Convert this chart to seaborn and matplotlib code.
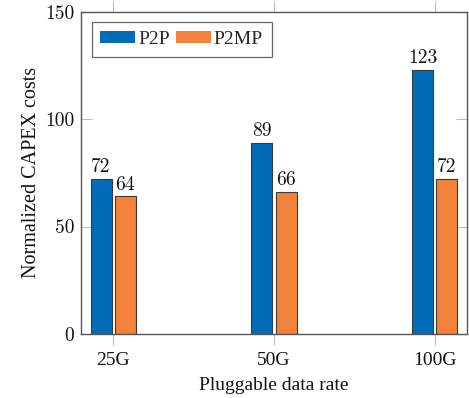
import matplotlib
matplotlib.use("Agg")
import matplotlib.pyplot as plt
import seaborn as sns
import pandas as pd

categories = ["25G", "50G", "100G"]
series = ["P2P", "P2MP"]
p2p = [72, 89, 123]
p2mp = [64, 66, 72]

df = pd.DataFrame({
    "rate": categories * 2,
    "scheme": [series[0]] * 3 + [series[1]] * 3,
    "value": p2p + p2mp,
})

sns.set_theme(style="white")
TEXT_FONT = ["Liberation Serif", "DejaVu Serif"]
NUM_FONT = ["cmr10", "DejaVu Serif"]
plt.rcParams["font.family"] = TEXT_FONT
plt.rcParams["mathtext.fontset"] = "cm"

fig = plt.figure(figsize=(4.69, 3.98), dpi=100)
ax = fig.add_axes([0.1727, 0.1608, 0.8230, 0.8102])

palette = {"P2P": "#006CB7", "P2MP": "#F5823A"}
sns.barplot(data=df, x="rate", y="value", hue="scheme", order=categories,
            hue_order=series, palette=palette, width=0.30, gap=0.133,
            edgecolor="#3a3a3a", linewidth=0.8, saturation=1, ax=ax, legend=True)

for cont in ax.containers:
    ax.bar_label(cont, fmt="%d", padding=2, fontsize=14, color="#111111",
                 family=NUM_FONT)

ax.set_xlim(-0.2, 2.2)
ax.set_ylim(0, 150)
ax.set_yticks([0, 50, 100, 150])
ax.set_xlabel("Pluggable data rate", fontsize=14, color="#111111", labelpad=6)
ax.set_ylabel("Normalized CAPEX costs", fontsize=14.5, color="#111111", labelpad=3)

for s in ax.spines.values():
    s.set_color("#555555")
    s.set_linewidth(1.0)

ax.tick_params(axis="y", which="major", direction="in", length=8, width=0.8,
               color="#bbbbbb", left=True, right=True, labelsize=14,
               labelcolor="#111111", pad=5)
ax.tick_params(axis="x", which="major", direction="out", length=8, width=0.8,
               color="#bbbbbb", bottom=True, top=True, labelsize=14,
               labelcolor="#111111", pad=5)
for lab in ax.get_yticklabels():
    lab.set_family(NUM_FONT)

leg = ax.legend(loc="upper left", ncol=2, frameon=True, fancybox=False,
                fontsize=14, handlelength=1.8, handleheight=0.55,
                handletextpad=0.15, columnspacing=0.3, borderpad=0.45,
                borderaxespad=0.55)
leg.get_frame().set_edgecolor("#444444")
leg.get_frame().set_linewidth(0.9)
for h in leg.legend_handles:
    h.set_edgecolor("none")

fig.savefig("out.png", dpi=100)
